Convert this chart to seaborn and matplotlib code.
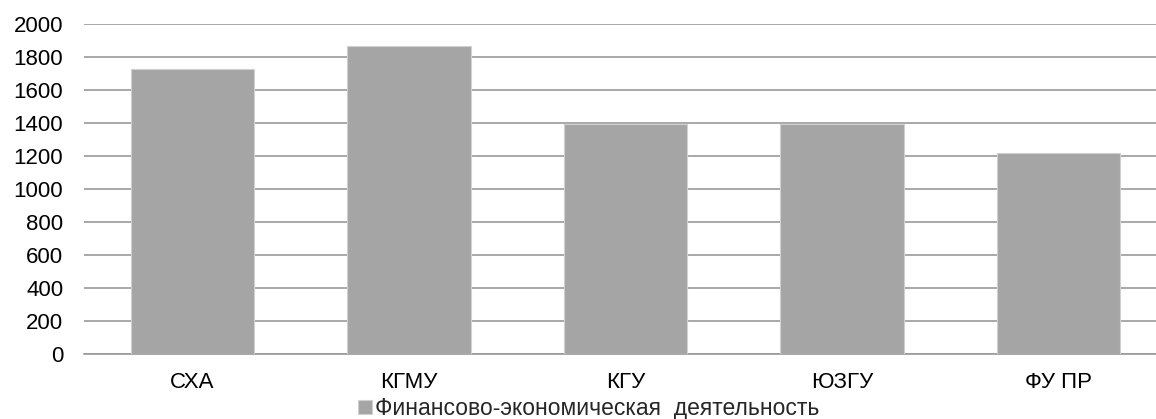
import pandas as pd
import matplotlib.pyplot as plt
import seaborn as sns

categories = ['СХА', 'КГМУ', 'КГУ', 'ЮЗГУ', 'ФУ ПР']
values = [1725, 1865, 1395, 1395, 1220]
series_name = 'Финансово-экономическая  деятельность'

df = pd.DataFrame({'Вуз': categories, 'Значение': values, 'Ряд': series_name})

sns.set_style('white')
plt.rcParams['font.family'] = ['Liberation Sans', 'DejaVu Sans']

fig = plt.figure(figsize=(11.56, 4.19), dpi=100)
ax = fig.add_axes([84 / 1156, 65 / 419, 1 - 84 / 1156, 330 / 419])

sns.barplot(data=df, x='Вуз', y='Значение', hue='Ряд', palette=['#a5a5a5'],
            width=0.57, edgecolor='#d0d0d0', linewidth=0.8, ax=ax, zorder=3)

ax.set_ylim(0, 2000)
ax.set_xlim(-0.5, 4.45)
ax.set_yticks(range(0, 2001, 200))
ax.yaxis.grid(True, color='#999999', linewidth=1.2, zorder=0)
ax.set_axisbelow(True)
for s in ['top', 'right', 'left']:
    ax.spines[s].set_visible(False)
ax.spines['bottom'].set_color('#999999')
ax.spines['bottom'].set_linewidth(1.2)
ax.tick_params(axis='both', length=0, labelsize=16, colors='black')
ax.tick_params(axis='x', pad=13)
ax.tick_params(axis='y', pad=15)
ax.set_xlabel('')
ax.set_ylabel('')

ax.legend(loc='center', bbox_to_anchor=(0.471, -0.165),
          frameon=False, fontsize=16.5, handlelength=0.6, handleheight=0.6,
          handletextpad=0.15, borderaxespad=0)

fig.savefig('out.png', dpi=100)
